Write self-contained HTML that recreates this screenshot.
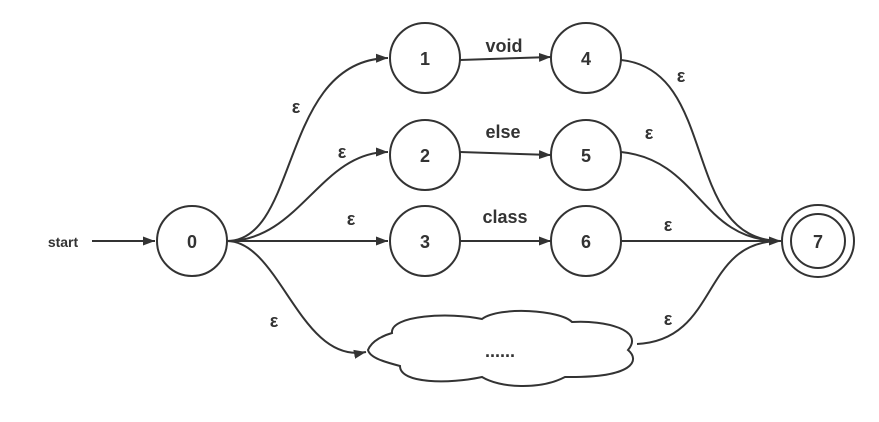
<!DOCTYPE html>
<html><head><style>body{margin:0;background:#fff}svg{display:block}text{font-family:"Liberation Sans","DejaVu Sans",sans-serif;font-weight:bold;fill:#333}</style></head>
<body>
<svg width="879" height="422" viewBox="0 0 879 422" xmlns="http://www.w3.org/2000/svg">
<defs><marker id="a" viewBox="0 0 12 10" refX="12" refY="5" markerWidth="12" markerHeight="10" markerUnits="userSpaceOnUse" orient="auto"><path d="M0,0.5 L12,5 L0,9.5 z" fill="#333"/></marker></defs>
<g fill="none" stroke="#333" stroke-width="2">
<line x1="92" y1="241" x2="155" y2="241" marker-end="url(#a)"/>
<path d="M227,241 C300,241 280,60 388,58" marker-end="url(#a)"/>
<path d="M227,241 C300,241 320,152 388,152" marker-end="url(#a)"/>
<line x1="227" y1="241" x2="388" y2="241" marker-end="url(#a)"/>
<path d="M227,241 C280,241 300,365 366,352" marker-end="url(#a)"/>
<path d="M460,60 L551,57" marker-end="url(#a)"/>
<line x1="460" y1="152" x2="551" y2="155" marker-end="url(#a)"/>
<line x1="460" y1="241" x2="551" y2="241" marker-end="url(#a)"/>
<path d="M621,60 C720,70 680,241 781,241" marker-end="url(#a)"/>
<path d="M621,152 C700,160 700,241 780,241"/>
<line x1="621" y1="241" x2="780" y2="241"/>
<path d="M637,344 C720,340 700,241 780,241"/>
<circle cx="192" cy="241" r="35"/>
<circle cx="425" cy="58" r="35"/>
<circle cx="586" cy="58" r="35"/>
<circle cx="425" cy="155" r="35"/>
<circle cx="586" cy="155" r="35"/>
<circle cx="425" cy="241" r="35"/>
<circle cx="586" cy="241" r="35"/>
<circle cx="818" cy="241" r="36"/>
<circle cx="818" cy="241" r="27"/>
<path fill="#fff" d="M368,350 C372,340 385,335 392,333 C390,315 450,312 482,319 C500,306 560,310 572,322 C605,320 645,330 628,350 C640,360 635,378 565,377 C540,390 500,388 482,377 C450,384 400,384 400,366 C385,362 370,358 368,350 z"/>
</g>
<g font-size="18" text-anchor="middle">
<text x="63" y="247" font-size="14">start</text>
<text x="192" y="248">0</text>
<text x="425" y="65">1</text>
<text x="586" y="65">4</text>
<text x="425" y="162">2</text>
<text x="586" y="162">5</text>
<text x="425" y="248">3</text>
<text x="586" y="248">6</text>
<text x="818" y="248">7</text>
<text x="504" y="52">void</text>
<text x="503" y="138">else</text>
<text x="505" y="223">class</text>
<text x="500" y="357">......</text>
<text x="296" y="113">ε</text>
<text x="342" y="158">ε</text>
<text x="351" y="225">ε</text>
<text x="274" y="327">ε</text>
<text x="681" y="82">ε</text>
<text x="649" y="139">ε</text>
<text x="668" y="231">ε</text>
<text x="668" y="325">ε</text>
</g>
</svg>
</body></html>
